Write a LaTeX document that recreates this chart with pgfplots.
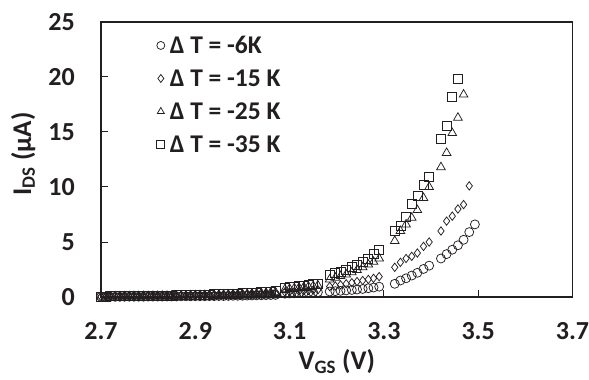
\documentclass[border=0pt]{standalone}
\usepackage{pgfplots}
\pgfplotsset{compat=1.18}
\usepackage{fontspec}
\setmainfont{Carlito}
\definecolor{ink}{RGB}{35,31,32}
\begin{document}
\begin{tikzpicture}
\begin{axis}[
  scale only axis, width=471.5pt, height=275pt,
  xmin=2.7, xmax=3.7, ymin=0, ymax=25,
  xtick={2.7,2.9,3.1,3.3,3.5,3.7},
  ytick={0,5,10,15,20,25},
  tick pos=left, tick align=inside,
  major tick length=7pt,
  tick style={line width=1pt, ink},
  axis line style={line width=1.3pt, ink},
  /pgf/number format/assume math mode=true,
  xticklabel style={/pgf/number format/fixed, /pgf/number format/fixed zerofill, /pgf/number format/precision=1, inner sep=0pt, anchor=north, yshift=-25pt},
  yticklabel style={/pgf/number format/fixed, inner sep=0pt, anchor=east, xshift=-26pt},
  ticklabel style={font=\fontsize{26}{26}\selectfont\bfseries, text=ink},
  every axis x label/.style={at={(axis description cs:0.5,-0.236)}, anchor=center},
  every axis y label/.style={at={(axis description cs:-0.165,0.52)}, anchor=center, rotate=90},
  label style={font=\fontsize{27}{27}\selectfont\bfseries, text=ink},
  xlabel={V\textsubscript{GS} (V)},
  ylabel={I\textsubscript{DS} (µA)},
  legend style={at={(axis description cs:0.118,0.95)}, anchor=north west, draw=none, fill=none,
    font=\fontsize{25.5}{25.5}\selectfont\bfseries, text=ink, row sep=0pt, column sep=5pt, inner sep=0pt,
    nodes={inner sep=0pt, text height=18pt, text depth=15pt}},
  legend image post style={yshift=7pt, mark size=4pt},
  legend cell align=left,
  clip=false,
]
\addplot[only marks, mark=o, mark size=4.5pt, ink, line width=0.75pt] coordinates {
(2.70,0.02)(2.71,0.02)(2.72,0.02)(2.73,0.02)(2.74,0.02)(2.75,0.03)(2.76,0.03)(2.77,0.03)(2.78,0.03)(2.79,0.03)
(2.80,0.04)(2.81,0.04)(2.82,0.04)(2.83,0.04)(2.84,0.05)(2.85,0.05)(2.86,0.05)(2.87,0.06)(2.88,0.06)(2.89,0.06)
(2.90,0.07)(2.91,0.07)(2.92,0.07)(2.93,0.08)(2.94,0.08)(2.95,0.09)(2.96,0.09)(2.97,0.10)(2.98,0.11)(2.99,0.11)
(3.00,0.12)(3.01,0.13)(3.02,0.14)(3.03,0.15)(3.04,0.16)(3.05,0.17)(3.06,0.18)(3.07,0.19)
(3.09,0.30)(3.10,0.32)(3.11,0.34)(3.12,0.36)(3.13,0.38)(3.14,0.40)(3.15,0.42)(3.16,0.44)
(3.185,0.50)(3.197,0.53)(3.208,0.56)(3.220,0.60)(3.232,0.64)(3.243,0.68)(3.255,0.73)(3.267,0.80)(3.278,0.86)(3.290,0.94)
(3.323,1.2)(3.335,1.5)(3.347,1.7)(3.359,1.95)(3.371,2.2)(3.384,2.55)(3.396,2.85)
(3.421,3.5)(3.433,3.9)(3.445,4.3)(3.457,4.7)(3.469,5.2)(3.481,5.9)(3.493,6.6)
};
\addlegendentry{Δ T = -6K}
\addplot[only marks, mark=diamond, mark size=4.2pt, ink, line width=0.75pt] coordinates {
(2.70,0.03)(2.71,0.03)(2.72,0.03)(2.73,0.03)(2.74,0.04)(2.75,0.04)(2.76,0.04)(2.77,0.05)(2.78,0.05)(2.79,0.05)
(2.80,0.06)(2.81,0.06)(2.82,0.06)(2.83,0.07)(2.84,0.07)(2.85,0.08)(2.86,0.08)(2.87,0.09)(2.88,0.09)(2.89,0.10)
(2.90,0.10)(2.91,0.11)(2.92,0.12)(2.93,0.12)(2.94,0.13)(2.95,0.14)(2.96,0.15)(2.97,0.16)(2.98,0.17)(2.99,0.18)
(3.00,0.19)(3.01,0.20)(3.02,0.21)(3.03,0.23)(3.04,0.24)(3.05,0.26)(3.06,0.28)(3.07,0.30)
(3.09,0.45)(3.10,0.48)(3.11,0.50)(3.12,0.53)(3.13,0.56)(3.14,0.60)(3.15,0.63)(3.16,0.66)
(3.185,0.95)(3.197,1.0)(3.208,1.1)(3.220,1.2)(3.232,1.3)(3.243,1.4)(3.255,1.5)(3.267,1.6)(3.278,1.7)(3.290,1.85)
(3.323,2.7)(3.335,3.15)(3.347,3.5)(3.359,3.7)(3.371,4.0)(3.384,4.6)(3.396,5.0)
(3.421,6.0)(3.433,6.9)(3.445,7.35)(3.457,8.0)(3.469,8.4)(3.481,10.1)
};
\addlegendentry{Δ T = -15 K}
\addplot[only marks, mark=triangle, mark size=5pt, ink, line width=0.75pt] coordinates {
(2.70,0.04)(2.71,0.04)(2.72,0.05)(2.73,0.05)(2.74,0.05)(2.75,0.06)(2.76,0.06)(2.77,0.07)(2.78,0.07)(2.79,0.08)
(2.80,0.08)(2.81,0.09)(2.82,0.09)(2.83,0.10)(2.84,0.10)(2.85,0.11)(2.86,0.12)(2.87,0.13)(2.88,0.13)(2.89,0.14)
(2.90,0.15)(2.91,0.16)(2.92,0.17)(2.93,0.18)(2.94,0.19)(2.95,0.20)(2.96,0.21)(2.97,0.22)(2.98,0.24)(2.99,0.25)
(3.00,0.27)(3.01,0.29)(3.02,0.31)(3.03,0.33)(3.04,0.35)(3.05,0.38)(3.06,0.41)(3.07,0.44)
(3.09,0.70)(3.10,0.75)(3.11,0.80)(3.12,0.85)(3.13,0.90)(3.14,0.95)(3.15,1.00)(3.16,1.05)
(3.185,1.6)(3.197,1.75)(3.208,1.9)(3.220,2.05)(3.232,2.25)(3.243,2.45)(3.255,2.7)(3.267,2.95)(3.278,3.2)(3.290,3.5)
(3.323,5.1)(3.335,6.0)(3.347,6.6)(3.359,7.2)(3.371,7.9)(3.384,9.0)(3.396,10.0)
(3.421,11.8)(3.433,13.1)(3.445,14.9)(3.457,16.3)(3.469,18.4)
};
\addlegendentry{Δ T = -25 K}
\addplot[only marks, mark=square, mark size=4.5pt, ink, line width=0.75pt] coordinates {
(2.70,0.05)(2.71,0.05)(2.72,0.06)(2.73,0.06)(2.74,0.07)(2.75,0.07)(2.76,0.08)(2.77,0.08)(2.78,0.09)(2.79,0.10)
(2.80,0.10)(2.81,0.11)(2.82,0.12)(2.83,0.12)(2.84,0.13)(2.85,0.14)(2.86,0.15)(2.87,0.16)(2.88,0.17)(2.89,0.18)
(2.90,0.19)(2.91,0.20)(2.92,0.21)(2.93,0.22)(2.94,0.24)(2.95,0.25)(2.96,0.27)(2.97,0.28)(2.98,0.30)(2.99,0.32)
(3.00,0.34)(3.01,0.36)(3.02,0.38)(3.03,0.41)(3.04,0.44)(3.05,0.47)(3.06,0.51)(3.07,0.55)
(3.09,0.85)(3.10,0.90)(3.11,0.95)(3.12,1.00)(3.13,1.05)(3.14,1.10)(3.15,1.15)(3.16,1.20)
(3.185,2.0)(3.197,2.15)(3.208,2.3)(3.220,2.5)(3.232,2.7)(3.243,2.95)(3.255,3.2)(3.267,3.5)(3.278,3.9)(3.290,4.3)
(3.323,6.0)(3.335,6.5)(3.347,7.3)(3.359,8.5)(3.371,9.2)(3.384,10.2)(3.396,10.9)
(3.421,14.4)(3.433,15.6)(3.445,18.2)(3.457,19.8)
};
\addlegendentry{Δ T = -35 K}
\end{axis}
\pgfresetboundingbox
\useasboundingbox ([xshift=-101pt,yshift=-83pt]current axis.south west) rectangle ([xshift=16.5pt,yshift=22pt]current axis.north east);
\end{tikzpicture}
\end{document}
